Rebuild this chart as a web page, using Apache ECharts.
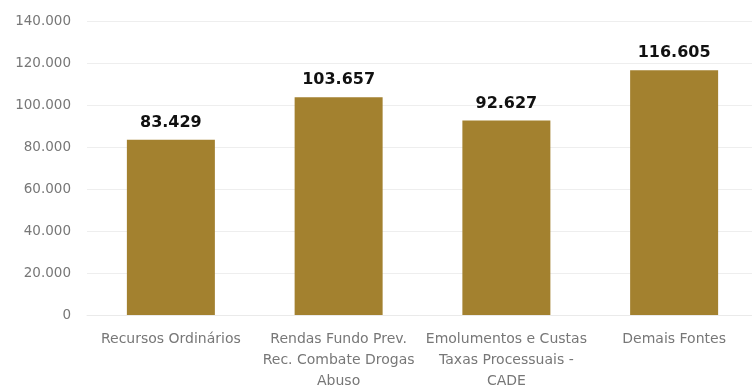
<!DOCTYPE html>
<html><head><meta charset="utf-8">
<script src="https://cdn.jsdelivr.net/npm/echarts@6/dist/echarts.min.js"></script>
<style>html,body{margin:0;padding:0;background:#fff}#c{width:752px;height:387px}</style>
</head><body><div id="c"></div>
<script>
const categories = ["Recursos Ordinários", "Rendas Fundo Prev.\nRec. Combate Drogas\nAbuso", "Emolumentos e Custas\nTaxas Processuais -\nCADE", "Demais Fontes"];
const values = [83429, 103657, 92627, 116605];
const yTicks = [0, 20000, 40000, 60000, 80000, 100000, 120000, 140000];

function fmt(v){ return v === 0 ? '0' : String(v).replace(/\B(?=(\d{3})+(?!\d))/g, '.'); }

const chart = echarts.init(document.getElementById('c'));
chart.setOption({
  animation: false,
  grid: { left: 87, top: 21, width: 671, height: 294, containLabel: false, outerBoundsMode: 'none' },
  xAxis: {
    type: 'category', data: categories,
    axisLine: { show: true, lineStyle: { color: '#eaeaea' } },
    axisTick: { show: false },
    axisLabel: { color: '#777777', fontFamily: 'DejaVu Sans', fontSize: 14, lineHeight: 21, margin: 14, interval: 0 }
  },
  yAxis: {
    type: 'value', min: yTicks[0], max: yTicks[yTicks.length-1], interval: 20000,
    axisLine: { show: false }, axisTick: { show: false },
    splitLine: { lineStyle: { color: '#eeeeee' } },
    axisLabel: { color: '#777777', fontFamily: 'DejaVu Sans', fontSize: 13.5, margin: 16, formatter: fmt }
  },
  series: [{
    type: 'bar', data: values, barWidth: 88,
    itemStyle: { color: '#A3812F' },
    label: { show: true, position: 'top', distance: 9, color: '#111', fontFamily: 'DejaVu Sans', fontWeight: 'bold', fontSize: 16, formatter: p => fmt(p.value) }
  }]
});
</script></body></html>
